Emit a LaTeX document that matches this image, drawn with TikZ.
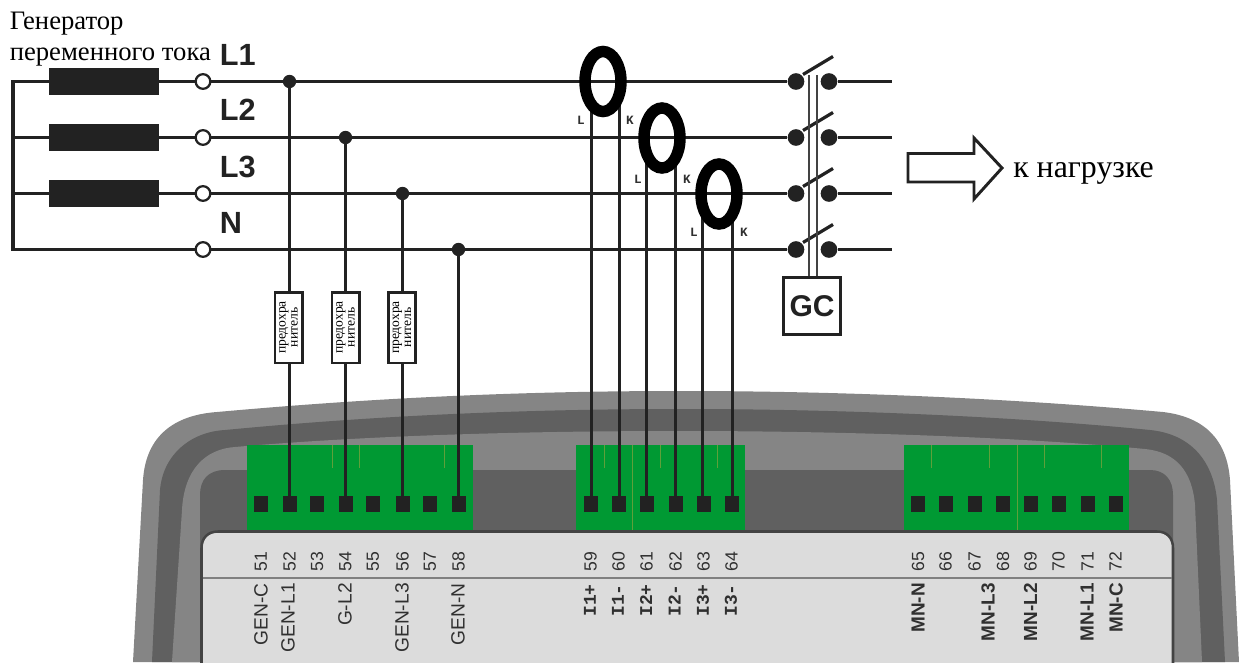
\documentclass[tikz,border=0pt]{standalone}
\usepackage{fontspec}
\setmainfont{Liberation Serif}
\setsansfont{Liberation Sans}
\setmonofont{Liberation Mono}
\usetikzlibrary{shapes.geometric}
\definecolor{wire}{HTML}{222222}
\definecolor{lgray}{HTML}{858585}
\definecolor{dgray}{HTML}{606060}
\definecolor{panelc}{HTML}{DCDCDC}
\definecolor{termgreen}{HTML}{009933}
\definecolor{sepc}{HTML}{5FA03A}
\definecolor{txtc}{HTML}{303030}
\tikzset{
  x=0.75pt,y=-0.75pt,
  wireh/.style={draw=wire,line width=2.4pt},
  wirev/.style={draw=wire,line width=2.2pt},
  coil/.style={rectangle,fill=wire,minimum width=82.5pt,minimum height=20pt,inner sep=0pt},
  openc/.style={circle,draw=wire,fill=white,line width=1.7pt,minimum size=11pt,inner sep=0pt},
  jdot/.style={circle,fill=wire,minimum size=10pt,inner sep=0pt},
  sdot/.style={circle,fill=wire,minimum size=12.5pt,inner sep=0pt},
  ct/.style={ellipse,draw=black,line width=8.6pt,minimum width=27pt,minimum height=45pt,inner sep=0pt},
  fuse/.style={rectangle,draw=wire,line width=2pt,fill=white,minimum width=53pt,minimum height=20.5pt,inner sep=0pt,rotate=90,
     font=\fontsize{10.2pt}{9pt}\selectfont,align=center},
  term/.style={rectangle,fill=wire,minimum width=10.5pt,minimum height=12pt,inner sep=0pt},
  num/.style={rotate=90,font=\sffamily\fontsize{13.2pt}{14pt}\selectfont,text=txtc,inner sep=0pt},
  lab/.style={rotate=90,anchor=east,font=\sffamily\fontsize{14.4pt}{15pt}\selectfont,text=txtc,inner sep=0pt},
  labb/.style={rotate=90,anchor=east,font=\sffamily\bfseries\fontsize{14.2pt}{15pt}\selectfont,text=txtc,inner sep=0pt},
  labm/.style={rotate=90,anchor=east,font=\ttfamily\bfseries\fontsize{13.5pt}{15pt}\selectfont,text=txtc,inner sep=0pt},
  phase/.style={anchor=base west,font=\sffamily\bfseries\fontsize{23pt}{24pt}\selectfont,text=wire,inner sep=0pt},
  ctl/.style={font=\ttfamily\bfseries\fontsize{9.5pt}{10pt}\selectfont,text=txtc,inner sep=0pt},
  ru/.style={anchor=base west,font=\fontsize{20pt}{22pt}\selectfont,text=black,inner sep=0pt},
  sep/.style={draw=sepc,line width=0.5pt},
}
\begin{document}
\begin{tikzpicture}
\useasboundingbox (0,0) rectangle (1239,662);
% housing
\fill[lgray] (133,662) -- (143,480) .. controls (146,435) and (175,415) .. (217,412)
  .. controls (350,400) and (500,391) .. (680,391) .. controls (860,391) and (1030,400) .. (1163,412)
  .. controls (1205,417) and (1227,440) .. (1230,480) -- (1239,662) -- cycle;
\fill[dgray] (152,662) -- (160,490) .. controls (163,455) and (190,432) .. (225,430)
  .. controls (350,418) and (500,409) .. (680,409) .. controls (860,409) and (1030,418) .. (1150,430)
  .. controls (1190,434) and (1213,460) .. (1217,500) -- (1225,662) -- cycle;
\fill[lgray] (172,662) -- (182,510) .. controls (184,470) and (205,449) .. (235,447)
  .. controls (350,437) and (500,431) .. (680,431) .. controls (860,431) and (1030,438) .. (1145,449)
  .. controls (1175,452) and (1192,470) .. (1195,505) -- (1202,662) -- cycle;
\fill[dgray] (200,662) -- (200,495) .. controls (200,480) and (208,470) .. (225,470)
  -- (1150,470) .. controls (1165,470) and (1173,480) .. (1173,495) -- (1173,662) -- cycle;
% terminal blocks
\fill[termgreen] (247,445) rectangle (473,530);
\fill[termgreen] (576,445) rectangle (745,530);
\fill[termgreen] (904,445) rectangle (1129,530);
\foreach \x in {332,359,444,604,660,717,931,989,1044,1101}{\draw[sep] (\x,445) -- (\x,468);}
\foreach \x in {632,1017}{\draw[sep] (\x,445) -- (\x,530);}
% panel
\draw[fill=panelc,draw=wire!85!white,line width=1.9pt] (201.5,666) -- (201.5,548) .. controls (201.5,538) and (208,531.5) .. (218,531.5)
  -- (1157,531.5) .. controls (1167,531.5) and (1173,538) .. (1173,548) -- (1173,666);
\draw[draw=dgray!80!white,line width=1.5pt] (202.5,578) -- (1172,578);
% terminals, numbers
\foreach \n/\x in {51/261,52/289.5,53/317,54/345.5,55/373,56/402.5,57/430,58/458.5,59/590.5,60/618.5,61/646.5,62/675.5,63/703.5,64/731.5,65/918,66/945.5,67/974.5,68/1003,69/1030.5,70/1058.5,71/1087.5,72/1115.5}{
  \node[term] (t\n) at (\x,504) {};
  \node[num] (n\n) at (\x,561.5) {\n};
}
% labels
\node[lab] (lgc) at (261,583) {GEN-C};
\node[lab] (lg1) at (288,583) {GEN-L1};
\node[lab] (lg2) at (345,583) {G-L2};
\node[lab] (lg3) at (402,583) {GEN-L3};
\node[lab] (lgn) at (458,583) {GEN-N};
\node[labm] (li1) at (590,584) {I1+};
\node[labm] (li2) at (618,584) {I1-};
\node[labm] (li3) at (646,584) {I2+};
\node[labm] (li4) at (674.5,584) {I2-};
\node[labm] (li5) at (703,584) {I3+};
\node[labm] (li6) at (731,584) {I3-};
\node[labb] (lmn) at (918,583) {MN-N};
\node[labb] (lm3) at (988,583) {MN-L3};
\node[labb] (lm2) at (1030.5,583) {MN-L2};
\node[labb] (lm1) at (1087,583) {MN-L1};
\node[labb] (lmc) at (1116,583) {MN-C};
% generator
\coordinate (gtl) at (13,81.5);
\coordinate (gbl) at (13,249.5);
\draw[wireh,line cap=rect] (gtl) -- (gbl);
\foreach \i/\y/\jx in {1/81.5/289.5,2/137.5/345.5,3/193.5/402.5,4/249.5/458.5}{
  \coordinate (st\i) at (13,\y);
  \coordinate (en\i) at (892,\y);
  \node[jdot] (j\i) at (\jx,\y) {};
  \node[sdot] (sl\i) at (796,\y) {};
  \node[sdot] (sr\i) at (829,\y) {};
  \draw[wireh] (st\i) -- (sl\i);
  \draw[wireh] (sr\i) -- (en\i);
}
\foreach \i/\y in {1/81.5,2/137.5,3/193.5}{\node[coil] (c\i) at (104,\y) {};}
\foreach \i/\y in {1/81.5,2/137.5,3/193.5,4/249.5}{
  \node[openc] (o\i) at (203,\y) {};
  \coordinate (ba\i) at (803,\y-7);
  \coordinate (bb\i) at (833,\y-25);
  \draw[wireh] (ba\i) -- (bb\i);
}
% GC
\node[rectangle,draw=wire,line width=1.9pt,fill=white,minimum size=43pt,inner sep=0pt,font=\sffamily\bfseries\fontsize{22.5pt}{23pt}\selectfont,text=wire] (gc) at (812,306) {GC};
\coordinate (ga) at (808.5,75);
\coordinate (gb) at (816.5,75);
\draw[draw=wire!85!white,line width=1.5pt] (ga) -- (ga |- gc.north);
\draw[draw=wire!85!white,line width=1.5pt] (gb) -- (gb |- gc.north);
% vertical wires
\foreach \j/\t in {1/52,2/54,3/56,4/58}{\draw[wirev] (j\j) -- (t\t);}
\node[fuse] (f1) at (288.5,327.5) {предохра\\нитель};
\node[fuse] (f2) at (345.5,327.5) {предохра\\нитель};
\node[fuse] (f3) at (402,327.5) {предохра\\нитель};
% current transformers
\foreach \k/\x/\y/\t in {a/591.5/104/59,b/619.5/104/60,c/646.5/160/61,d/675.5/160/62,e/702.5/216/63,f/732.5/216/64}{
  \coordinate (w\k) at (\x,\y);
  \draw[wirev] (w\k) -- (w\k |- t\t.center);
}
\node[ct] (ct1) at (603,81.5) {};
\node[ct] (ct2) at (662,138) {};
\node[ct] (ct3) at (719,194) {};
\node[ctl] (kl1) at (581,120) {L};
\node[ctl] (kk1) at (630,120) {K};
\node[ctl] (kl2) at (638,179) {L};
\node[ctl] (kk2) at (687,179) {K};
\node[ctl] (kl3) at (694,232) {L};
\node[ctl] (kk3) at (744,232) {K};
% phase labels
\node[phase] (p1) at (219.5,65) {L1};
\node[phase] (p2) at (219.5,120.5) {L2};
\node[phase] (p3) at (219.5,177.5) {L3};
\node[phase] (p4) at (219.5,233.5) {N};
% texts
\node[ru] (t1) at (9.5,29) {Генератор};
\node[ru] (t2) at (9.5,60) {переменного тока};
\node[ru,font=\fontsize{23.9pt}{26pt}\selectfont] (t3) at (1013,177) {к нагрузке};
% arrow
\draw[draw=wire,line width=2.2pt,fill=white,line join=miter] (908,153.5) -- (974,153.5) -- (974,138) -- (1002,168) -- (974,199) -- (974,182) -- (908,182) -- cycle;
\end{tikzpicture}
\end{document}
